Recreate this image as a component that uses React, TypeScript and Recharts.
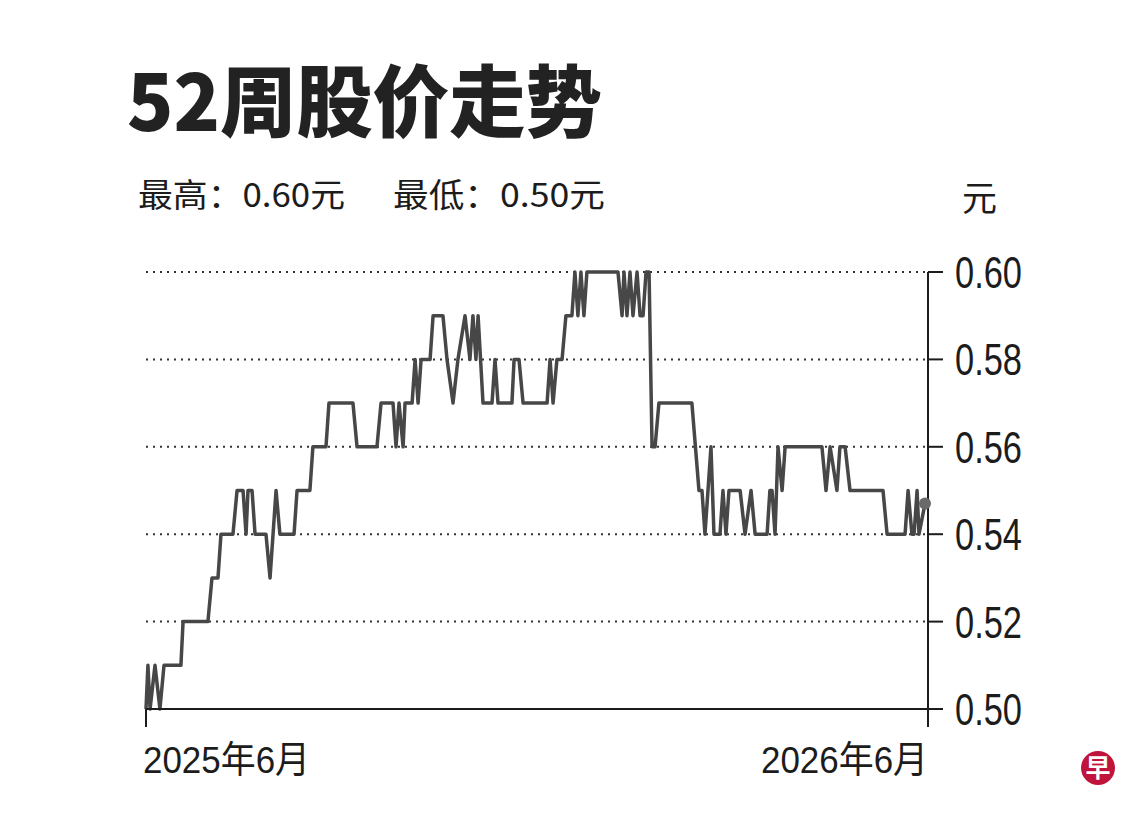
import { LineChart, Line, XAxis, YAxis, CartesianGrid } from 'recharts';

// days since start of window (2025-06 .. 2026-06)
const days = [
  0, 0.9, 1.9, 4.2, 6.5, 8.4, 16.3, 17.3, 28.9, 30.8, 33.6, 35.0, 40.6, 42.5, 45.3, 46.7,
  47.6, 49.5, 50.9, 56.0, 57.9, 60.7, 62.5, 69.1, 70.5, 76.5, 77.9, 84.0, 85.4, 96.6, 98.5,
  107.8, 109.7, 115.3, 116.7, 118.1, 120.0, 120.9, 124.2, 125.6, 127.0, 128.4, 132.6, 134.0,
  138.6, 140.5, 143.3, 145.6, 148.9, 151.2, 152.6, 154.0, 155.0, 157.3, 161.5, 162.9, 164.3,
  170.8, 171.8, 174.1, 176.0, 187.2, 188.6, 190.0, 191.8, 194.2, 196.0, 198.8, 200.2, 201.6,
  203.0, 204.4, 205.8, 220.3, 222.2, 223.1, 224.5, 225.9, 227.3, 229.2, 230.6, 232.0, 233.4,
  234.8, 236.2, 237.6, 239.4, 254.8, 258.1, 259.5, 260.9, 263.7, 265.1, 267.9, 269.3, 270.7,
  272.1, 277.3, 279.6, 282.4, 284.3, 289.9, 291.2, 292.2, 293.6, 295.0, 296.9, 298.3, 315.5,
  317.4, 319.3, 322.5, 323.9, 326.3, 328.6, 344.0, 345.9, 354.3, 355.7, 357.5, 358.5, 359.9,
  360.8, 363.6,
];

const prices = [
  0.50, 0.51, 0.50, 0.51, 0.50, 0.51, 0.51, 0.52, 0.52, 0.53, 0.53, 0.54, 0.54, 0.55, 0.55, 0.54,
  0.55, 0.55, 0.54, 0.54, 0.53, 0.55, 0.54, 0.54, 0.55, 0.55, 0.56, 0.56, 0.57, 0.57, 0.56,
  0.56, 0.57, 0.57, 0.56, 0.57, 0.56, 0.57, 0.57, 0.58, 0.57, 0.58, 0.58, 0.59,
  0.59, 0.58, 0.57, 0.58, 0.59, 0.58, 0.59, 0.58, 0.59, 0.57, 0.57, 0.58, 0.57,
  0.57, 0.58, 0.58, 0.57, 0.57, 0.58, 0.57, 0.58, 0.58, 0.59, 0.59, 0.60, 0.59,
  0.60, 0.59, 0.60, 0.60, 0.59, 0.60, 0.59, 0.60, 0.59, 0.60, 0.59, 0.59, 0.60,
  0.60, 0.56, 0.56, 0.57, 0.57, 0.55, 0.55, 0.54, 0.56, 0.54, 0.54, 0.55, 0.54,
  0.55, 0.55, 0.54, 0.55, 0.54, 0.54, 0.55, 0.55, 0.54, 0.56, 0.55, 0.56, 0.56,
  0.55, 0.56, 0.55, 0.56, 0.56, 0.55, 0.55, 0.54, 0.54, 0.55, 0.54, 0.54, 0.55,
  0.54, 0.547,
];

const yTicks = [0.5, 0.52, 0.54, 0.56, 0.58, 0.6];
const xTicks = [0, 365];
const xLabels = ['2025年6月', '2026年6月'];

const title = '52周股价走势';
const highText = '最高：0.60元';
const lowText = '最低：0.50元';
const unitText = '元';

const data = days.map((d, i) => ({ day: d, price: prices[i] }));

const INK = '#1c1c1c';
const LATIN = '"Liberation Sans", Arial, "Noto Sans CJK SC", sans-serif';
const CJK = '"Noto Sans CJK SC", "Liberation Sans", sans-serif';

function PriceTick(props: any) {
  const { x, y, payload } = props;
  return (
    <text
      x={x + 10}
      y={y + 16}
      fontSize={44}
      fontFamily={LATIN}
      fill={INK}
      textLength={67}
      lengthAdjust="spacingAndGlyphs"
    >
      {payload.value.toFixed(2)}
    </text>
  );
}

function DateTick(props: any) {
  const { x, y, index } = props;
  const first = index === 0;
  return (
    <text
      x={first ? x - 3 : x}
      y={y + 44}
      fontSize={37}
      fontFamily={LATIN}
      fill={INK}
      textAnchor={first ? 'start' : 'end'}
      textLength={167}
      lengthAdjust="spacingAndGlyphs"
    >
      {xLabels[index]}
    </text>
  );
}

function EndDot(props: any) {
  const { cx, cy, index } = props;
  if (index !== data.length - 1) return <g key={`d${index}`} />;
  return <circle key="end" cx={cx} cy={cy} r={6} fill="#6a6a6a" />;
}

export default function App() {
  return (
    <div style={{ position: 'absolute', left: 0, top: 0, width: 1140, height: 820, background: '#fff' }}>
      <LineChart
        width={1140}
        height={820}
        data={data}
        margin={{ top: 272, right: 112, left: 146, bottom: 71 }}
      >
        <CartesianGrid
          horizontal
          vertical={false}
          stroke="#333"
          strokeWidth={2}
          strokeDasharray="2 5"
        />
        <XAxis
          dataKey="day"
          type="number"
          domain={[0, 365]}
          ticks={xTicks}
          height={40}
          axisLine={{ stroke: INK, strokeWidth: 2 }}
          tickLine={{ stroke: INK, strokeWidth: 2 }}
          tickSize={18}
          tick={<DateTick />}
          interval={0}
        />
        <YAxis
          orientation="right"
          domain={[0.5, 0.6]}
          ticks={yTicks}
          width={100}
          axisLine={{ stroke: INK, strokeWidth: 2 }}
          tickLine={{ stroke: INK, strokeWidth: 2 }}
          tickSize={15}
          tick={<PriceTick />}
          interval={0}
        />
        <Line
          type="linear"
          dataKey="price"
          stroke="#474747"
          strokeWidth={3.5}
          strokeLinejoin="round"
          dot={EndDot}
          activeDot={false}
          isAnimationActive={false}
        />
      </LineChart>
      <svg
        width={1140}
        height={820}
        style={{ position: 'absolute', left: 0, top: 0, pointerEvents: 'none' }}
      >
        <text
          x={127}
          y={131}
          fontSize={78}
          fontWeight={900}
          fontFamily={CJK}
          fill="#222"
          textLength={475}
          lengthAdjust="spacingAndGlyphs"
        >
          {title}
        </text>
        <text x={138} y={207} fontSize={33} fontFamily={CJK} fill={INK} textLength={207} lengthAdjust="spacingAndGlyphs">
          {highText}
        </text>
        <text x={393} y={207} fontSize={33} fontFamily={CJK} fill={INK} textLength={212} lengthAdjust="spacingAndGlyphs">
          {lowText}
        </text>
        <text x={962} y={211} fontSize={35} fontFamily={CJK} fill={INK}>
          {unitText}
        </text>
        <circle cx={1098} cy={768} r={17} fill="#c0143c" />
        <text x={1098} y={777} fontSize={25} fontWeight={700} fontFamily={CJK} fill="#fff" textAnchor="middle">
          早
        </text>
      </svg>
    </div>
  );
}
